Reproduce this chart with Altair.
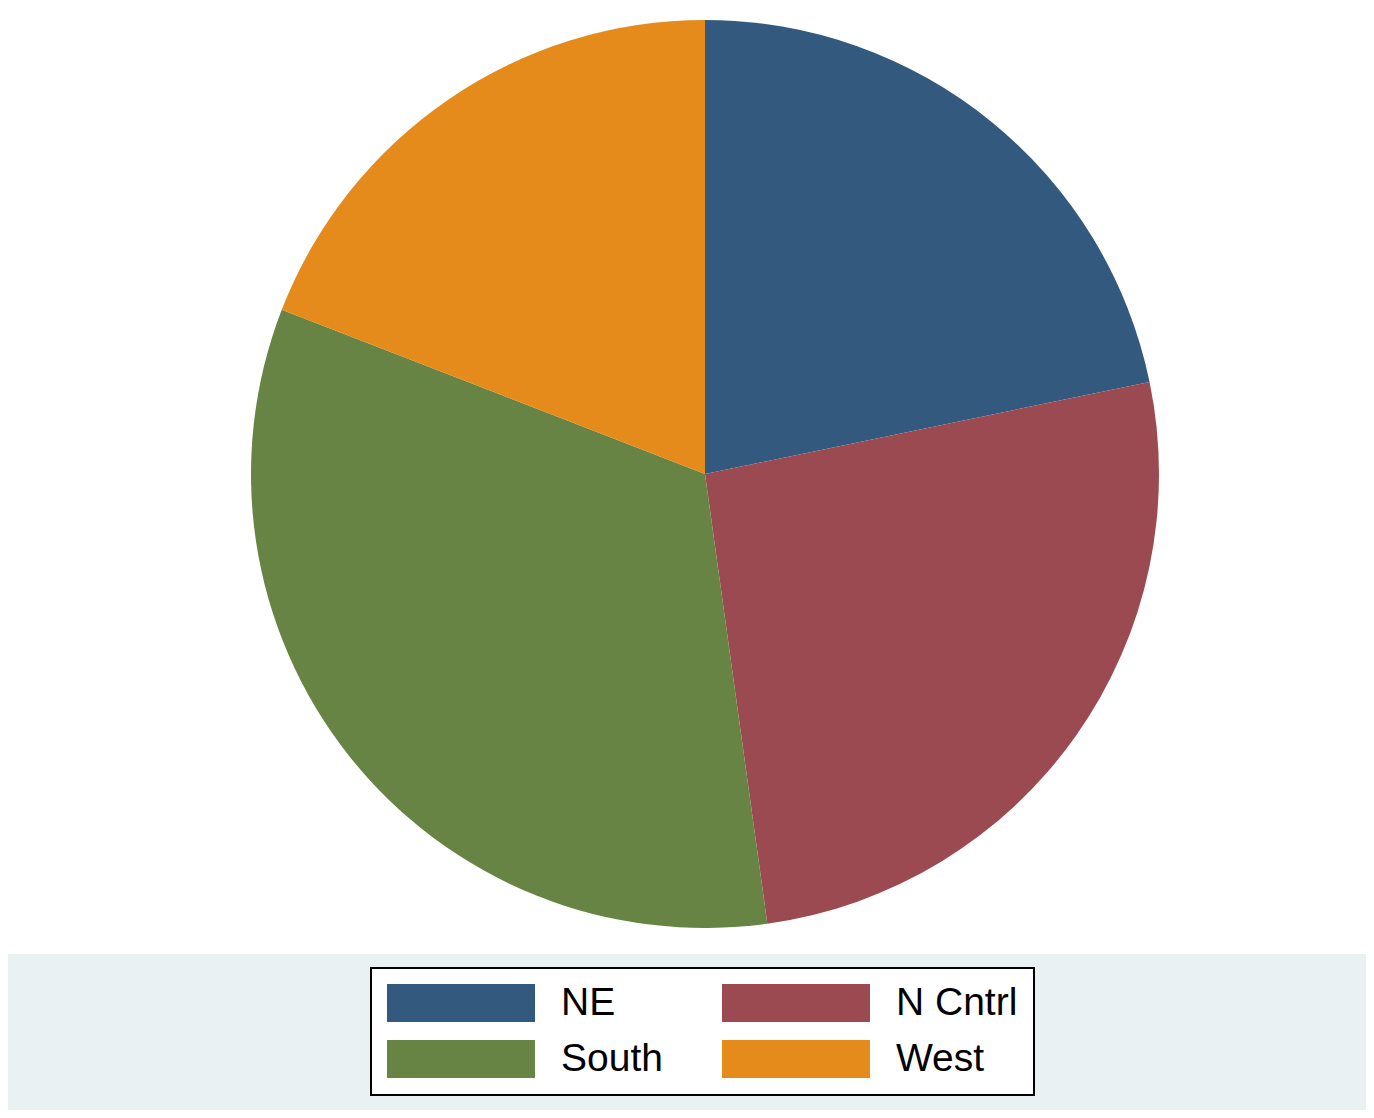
import altair as alt
import pandas as pd

regions = ["NE", "N Cntrl", "South", "West"]
population = [49135283, 58865670, 74734029, 43172490]
colors = ["#335a7e", "#9c4a51", "#688445", "#e58b1b"]

# legend is filled column by column: NE, South | N Cntrl, West
legend_order = ["NE", "South", "N Cntrl", "West"]
legend_colors = [colors[regions.index(r)] for r in legend_order]

df = pd.DataFrame({"region": regions, "pop": population, "ord": list(range(len(regions)))})

rect_path = "M-1,-0.2568 L1,-0.2568 L1,0.2568 L-1,0.2568 Z"

chart = (
    alt.Chart(df)
    .mark_arc(radius=454, strokeWidth=0)
    .encode(
        theta=alt.Theta("pop:Q", stack=True),
        order=alt.Order("ord:Q"),
        x=alt.value(697),
        y=alt.value(466),
        color=alt.Color(
            "region:N",
            sort=legend_order,
            scale=alt.Scale(domain=legend_order, range=legend_colors),
            legend=alt.Legend(
                title=None,
                orient="none",
                legendX=363,
                legendY=960,
                columns=2,
                columnPadding=59,
                rowPadding=17,
                padding=16,
                fillColor="white",
                strokeColor="black",
                symbolType=rect_path,
                symbolSize=21904,
                symbolStrokeWidth=0,
                symbolOffset=0,
                clipHeight=38,
                labelFont="Liberation Sans",
                labelFontSize=39,
                labelColor="black",
                labelOffset=26,
                labelLimit=400,
            ),
        ),
    )
    .properties(
        width=1358,
        height=946,
        background="#eaf1f3",
        padding={"left": 0, "top": 0, "right": 0, "bottom": 14},
    )
    .configure_view(stroke=None, fill="white")
    .configure_legend(strokeWidth=2)
)

chart.save("out.html", embed_options={"renderer": "svg", "actions": False})
